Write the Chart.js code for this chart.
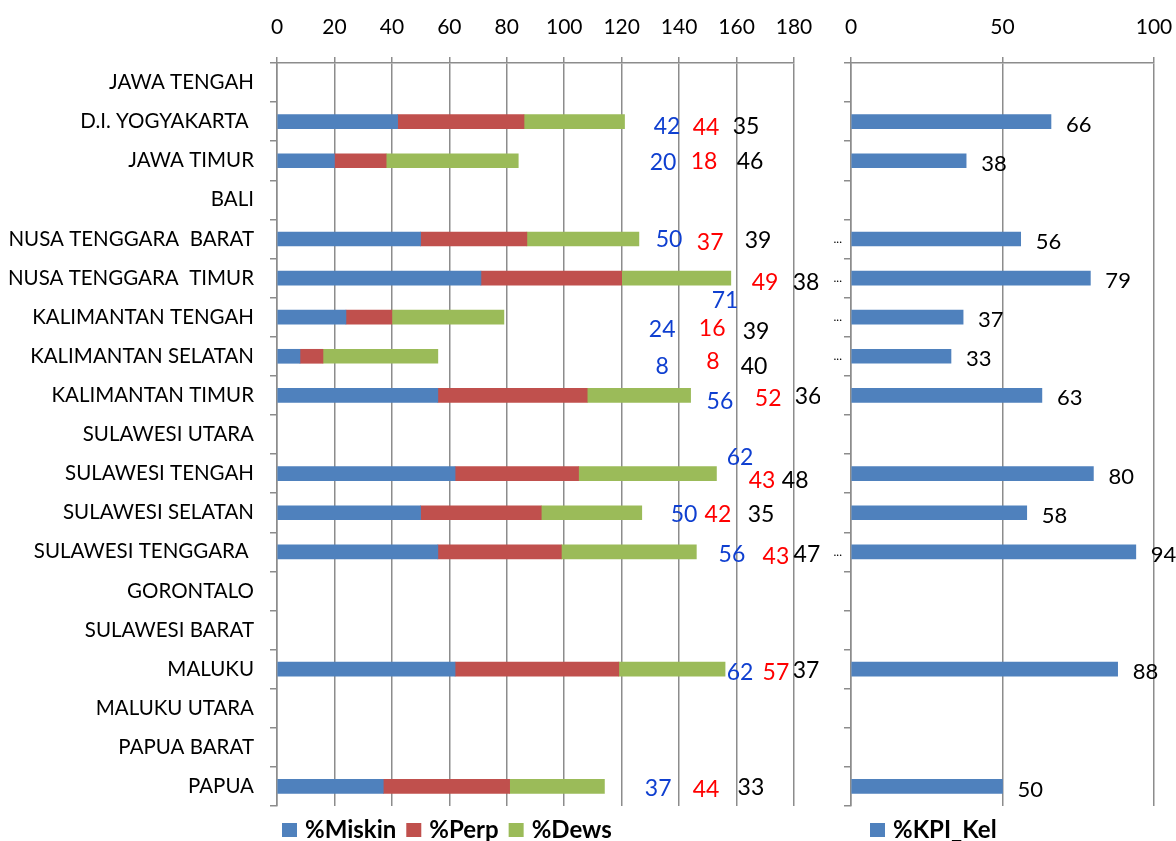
<!DOCTYPE html>
<html>
<head>
<meta charset="utf-8">
<script src="https://cdn.jsdelivr.net/npm/chart.js@4.4.1/dist/chart.umd.min.js"></script>
<style>
  html, body { margin: 0; padding: 0; background: #fff; overflow: hidden; }
  #wrap { position: relative; width: 1176px; height: 841px; overflow: hidden; }
  #left { position: absolute; left: 0; top: 0; }
  #right { position: absolute; left: 820px; top: 0; }
</style>
</head>
<body>
<div id="wrap">
  <canvas id="left" width="820" height="841"></canvas>
  <canvas id="right" width="356" height="841"></canvas>
</div>
<script>
// Provinces, top to bottom
const provinces = [
  'JAWA TENGAH', 'D.I. YOGYAKARTA ', 'JAWA TIMUR', 'BALI',
  'NUSA TENGGARA  BARAT', 'NUSA TENGGARA  TIMUR', 'KALIMANTAN TENGAH',
  'KALIMANTAN SELATAN', 'KALIMANTAN TIMUR', 'SULAWESI UTARA',
  'SULAWESI TENGAH', 'SULAWESI SELATAN', 'SULAWESI TENGGARA ',
  'GORONTALO', 'SULAWESI BARAT', 'MALUKU', 'MALUKU UTARA',
  'PAPUA BARAT', 'PAPUA'
];

// Series values (%)
const miskin = [null, 42, 20, null, 50, 71, 24, 8, 56, null, 62, 50, 56, null, null, 62, null, null, 37];
const perp   = [null, 44, 18, null, 37, 49, 16, 8, 52, null, 43, 42, 43, null, null, 57, null, null, 44];
const dews   = [null, 35, 46, null, 39, 38, 39, 40, 36, null, 48, 35, 47, null, null, 37, null, null, 33];
const kpiKel = [null, 66, 38, null, 56, 79, 37, 33, 63, null, 80, 58, 94, null, null, 88, null, null, 50];

// Axis tick labels
const stackTicks = [0, 20, 40, 60, 80, 100, 120, 140, 160, 180];
const kpiTicks = [0, 50, 100];

// Where each value label sits (x in axis units, vertical nudge in px)
const miskinLabelAt = [null, 135.8, 134.4, null, 136.5, 156, 134.1, 134.1, 154.2, null, 161.2, 141.7, 158.4, null, null, 161.2, null, null, 132.7];
const perpLabelAt   = [null, 149.4, 148.7, null, 150.8, 169.9, 151.5, 151.8, 171, null, 168.9, 153.5, 173.7, null, null, 173.7, null, null, 149.4];
const dewsLabelAt   = [null, 163.3, 164.7, null, 167.5, 184.2, 166.8, 166.1, 184.9, null, 180.4, 168.5, 184.5, null, null, 184.2, null, null, 165];
const miskinLabelDy = [0, 5, 2, 0, 1, 22, 12, 10, 6, 0, -16, 2, 3, 0, 0, 3, 0, 0, 2];
const perpLabelDy   = [0, 6, 1, 0, 4, 4, 11, 5, 3, 0, 7, 2, 5, 0, 0, 3, 0, 0, 3];
const dewsLabelDy   = [0, 5, 1, 0, 2, 4, 14, 10, 1, 0, 7, 2, 3, 0, 0, 1, 0, 0, 1];

// Rows whose name is shortened to an ellipsis on the KPI panel
const kpiEllipsisRows = [4, 5, 6, 7, 12];

const FONT = 'Lato';
const GRID = '#8c8c8c';
Chart.defaults.font.family = FONT;
Chart.defaults.color = '#000';

// Coloured value labels beside the stacked bars
const valueLabels = {
  id: 'valueLabels',
  afterDatasetsDraw(chart) {
    const { ctx, scales: { x, y } } = chart;
    ctx.save();
    ctx.font = '23px ' + FONT;
    ctx.textAlign = 'center';
    ctx.textBaseline = 'middle';
    chart.data.datasets.forEach(ds => {
      ds.data.forEach((v, i) => {
        if (v == null) return;
        ctx.fillStyle = ds.labelColor;
        ctx.fillText(String(v), x.getPixelForValue(ds.labelAt[i]), y.getPixelForValue(i) + ds.labelDy[i]);
      });
    });
    ctx.restore();
  }
};

// Value labels just past the end of each KPI bar
const endLabels = {
  id: 'endLabels',
  afterDatasetsDraw(chart) {
    const { ctx } = chart;
    const ds = chart.data.datasets[0];
    const meta = chart.getDatasetMeta(0);
    ctx.save();
    ctx.font = '22px ' + FONT;
    ctx.textAlign = 'left';
    ctx.textBaseline = 'middle';
    ctx.fillStyle = '#000';
    meta.data.forEach((bar, i) => {
      const v = ds.data[i];
      if (v == null) return;
      ctx.fillText(String(v), bar.x + 15, bar.y + 3);
    });
    ctx.restore();
  }
};

// Legend row under each panel
const rowLegend = {
  id: 'rowLegend',
  afterDraw(chart, args, opts) {
    const { ctx } = chart;
    ctx.save();
    ctx.font = 'bold 24px ' + FONT;
    ctx.textAlign = 'left';
    ctx.textBaseline = 'middle';
    let x = chart.chartArea.left + opts.inset;
    const cy = opts.y;
    chart.data.datasets.forEach(ds => {
      ctx.fillStyle = ds.backgroundColor;
      ctx.fillRect(x, cy - 7, 15, 14);
      x += 23;
      ctx.fillStyle = '#000';
      ctx.fillText(ds.label, x, cy);
      x += ctx.measureText(ds.label).width + 10;
    });
    ctx.restore();
  }
};

function topAxis(ticks) {
  return {
    type: 'linear',
    position: 'top',
    min: ticks[0],
    max: ticks[ticks.length - 1],
    stacked: true,
    ticks: { stepSize: ticks[1] - ticks[0], font: { size: 21 }, color: '#000', padding: 17, maxRotation: 0 },
    grid: { color: GRID, lineWidth: 1.5, tickLength: 6 },
    border: { color: GRID, width: 1.5 },
    afterFit(scale) {
      scale.height = 47;
      scale.paddingLeft = 0; scale.paddingRight = 0;
      scale.paddingTop = 0; scale.paddingBottom = 0;
    }
  };
}

function categoryAxis(width, tickOpts) {
  return {
    stacked: true,
    ticks: Object.assign({ color: '#000' }, tickOpts),
    grid: { drawOnChartArea: false, color: GRID, lineWidth: 1.5, tickLength: 7, offset: true },
    border: { color: GRID, width: 1.5 },
    afterFit(scale) {
      scale.width = width;
      scale.paddingLeft = 0; scale.paddingRight = 0;
      scale.paddingTop = 0; scale.paddingBottom = 0;
    }
  };
}

new Chart(document.getElementById('left'), {
  type: 'bar',
  data: {
    labels: provinces,
    datasets: [
      { label: '%Miskin', data: miskin, backgroundColor: '#4f81bd', labelColor: '#0f3fd0', labelAt: miskinLabelAt, labelDy: miskinLabelDy },
      { label: '%Perp',   data: perp,   backgroundColor: '#c0504d', labelColor: '#ff0000', labelAt: perpLabelAt,   labelDy: perpLabelDy },
      { label: '%Dews',   data: dews,   backgroundColor: '#9bbb59', labelColor: '#000000', labelAt: dewsLabelAt,   labelDy: dewsLabelDy }
    ]
  },
  options: {
    indexAxis: 'y',
    responsive: false,
    animation: false,
    barThickness: 14,
    layout: { padding: { top: 16, right: 26, bottom: 35, left: 0 } },
    scales: {
      x: topAxis(stackTicks),
      y: categoryAxis(277, { font: { size: 20.5 }, padding: 16 })
    },
    plugins: {
      legend: { display: false },
      tooltip: { enabled: false },
      rowLegend: { inset: 5, y: 830 }
    }
  },
  plugins: [valueLabels, rowLegend]
});

new Chart(document.getElementById('right'), {
  type: 'bar',
  data: {
    labels: provinces,
    datasets: [
      { label: '%KPI_Kel', data: kpiKel, backgroundColor: '#4f81bd' }
    ]
  },
  options: {
    indexAxis: 'y',
    responsive: false,
    animation: false,
    barThickness: 14,
    layout: { padding: { top: 16, right: 22, bottom: 35, left: 0 } },
    scales: {
      x: topAxis(kpiTicks),
      y: categoryAxis(31, {
        font: { size: 12 }, padding: 2,
        callback: (v, i) => kpiEllipsisRows.includes(i) ? '...' : ''
      })
    },
    plugins: {
      legend: { display: false },
      tooltip: { enabled: false },
      rowLegend: { inset: 19, y: 830 }
    }
  },
  plugins: [endLabels, rowLegend]
});
</script>
</body>
</html>
